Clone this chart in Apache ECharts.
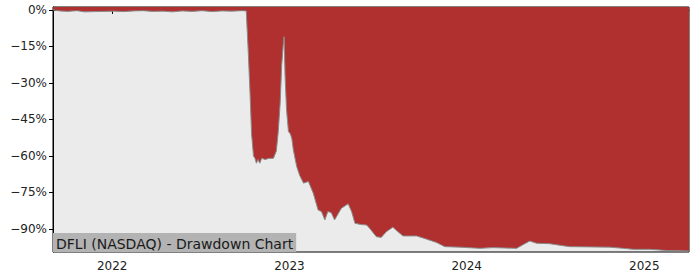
<!DOCTYPE html>
<html>
<head>
<meta charset="utf-8">
<script src="https://cdn.jsdelivr.net/npm/echarts@6/dist/echarts.min.js"></script>
<style>
html,body{margin:0;padding:0;background:#fff;}
#chart{width:700px;height:280px;}
</style>
</head>
<body>
<div id="chart"></div>
<script>
const chartTitle = 'DFLI (NASDAQ) - Drawdown Chart';
const dates = [
  '2021-09-01','2021-09-15','2021-10-01','2021-10-20','2021-11-05','2021-11-25','2021-12-15',
  '2022-01-05','2022-01-25','2022-02-15','2022-03-05','2022-03-25','2022-04-15','2022-05-05',
  '2022-05-25','2022-06-15','2022-07-05','2022-07-25','2022-08-15','2022-09-05','2022-09-25',
  '2022-10-04','2022-10-08','2022-10-12','2022-10-15','2022-10-19','2022-10-22','2022-10-25',
  '2022-10-28','2022-11-01','2022-11-05','2022-11-12','2022-11-20','2022-11-29','2022-12-05',
  '2022-12-09','2022-12-13','2022-12-16','2022-12-19','2022-12-21','2022-12-23','2022-12-26',
  '2022-12-30','2023-01-03','2023-01-06','2023-01-09','2023-01-16','2023-01-22','2023-01-30',
  '2023-02-09','2023-02-19','2023-03-01','2023-03-08','2023-03-15','2023-03-21','2023-03-28',
  '2023-04-04','2023-04-18','2023-05-02','2023-05-09','2023-05-16','2023-05-28','2023-06-09',
  '2023-06-15','2023-06-29','2023-07-09','2023-07-20','2023-08-02','2023-08-12','2023-08-23',
  '2023-09-20','2023-10-10','2023-10-31','2023-11-17','2023-12-18','2024-01-28','2024-02-24',
  '2024-04-13','2024-04-26','2024-05-10','2024-05-24','2024-06-20','2024-07-31','2024-10-22',
  '2024-11-19','2024-12-09','2025-01-13','2025-02-17','2025-04-03'
];
const drawdown = [
  0,-0.4,-0.6,-0.3,-0.8,-0.7,-0.6,
  -0.5,-0.7,-0.4,-0.3,-0.6,-0.5,-0.8,
  -0.4,-0.6,-0.3,-0.7,-0.4,-0.5,-0.3,
  -0.4,-16.5,-35,-51,-60,-61,-63,
  -61.5,-63,-61,-61.5,-61,-61,-58,
  -50,-38,-23,-15,-11,-27,-41,
  -50,-51,-53,-57.5,-64.4,-68,-71.2,
  -70.5,-75.3,-82.2,-82.9,-86.3,-82.9,-83.3,
  -86.3,-81.5,-79.7,-82.9,-87.7,-88.2,-88.4,
  -89.7,-93.2,-93.5,-91.1,-89.3,-91.1,-92.9,
  -92.9,-94.2,-95.6,-97.3,-97.5,-98,-97.7,
  -98,-96.5,-95,-95.9,-96.1,-97.3,-97.5,
  -98,-98.4,-98.4,-98.9,-99.1
];
const yTicks = [0,-15,-30,-45,-60,-75,-90];
const yearTicks = ['2022-01-01','2023-01-01','2024-01-01','2025-01-01'];
const yearLabels = ['2022','2023','2024','2025'];

const ts = d => Date.UTC(+d.slice(0,4), +d.slice(5,7)-1, +d.slice(8,10));
const seriesData = dates.map((d,i)=>[ts(d), drawdown[i]]);
const yearTs = yearTicks.map(ts);

const chart = echarts.init(document.getElementById('chart'), null, {renderer:'svg'});
chart.setOption({
  animation:false,
  textStyle:{fontFamily:'DejaVu Sans'},
  title:{
    text:chartTitle,
    left:53, bottom:28,
    backgroundColor:'#b3b3b3',
    padding:[3,3,1,3],
    itemGap:0,
    textStyle:{fontFamily:'DejaVu Sans',fontSize:14,fontWeight:'normal',color:'#1a1a1a',lineHeight:15}
  },
  grid:{left:53,right:11,top:7,bottom:28,show:true,backgroundColor:'#ebebeb',borderColor:'#000',borderWidth:1},
  xAxis:{
    type:'value',
    min:ts('2021-09-01'), max:ts('2025-04-03'),
    axisLine:{show:true,lineStyle:{color:'#000',width:1}},
    axisTick:{show:true,inside:false,length:4,lineStyle:{color:'#000'},customValues:yearTs},
    axisLabel:{
      customValues:yearTs,
      fontSize:12,color:'#222',margin:8,fontFamily:'DejaVu Sans',
      formatter:function(v){
        const i = yearTs.findIndex(t=>Math.abs(t-v)<86400000);
        return i>=0 ? yearLabels[i] : '';
      }
    },
    splitLine:{show:false}
  },
  yAxis:{
    type:'value',
    min:-99.5, max:1.2,
    axisLine:{show:true,lineStyle:{color:'#000',width:1}},
    axisTick:{show:true,inside:false,length:4,lineStyle:{color:'#000'},customValues:yTicks},
    axisLabel:{
      customValues:yTicks,
      fontSize:12,color:'#222',margin:6,fontFamily:'DejaVu Sans',
      formatter:function(v){ return (v<0?'\u2212':'') + Math.abs(Math.round(v)) + '%'; }
    },
    splitLine:{show:false}
  },
  series:[{
    type:'line',
    data:seriesData,
    symbol:'none',
    lineStyle:{color:'#8a8a8a',width:1},
    areaStyle:{color:'#b03030',opacity:1,origin:'end'},
    z:2
  }]
});
</script>
</body>
</html>
